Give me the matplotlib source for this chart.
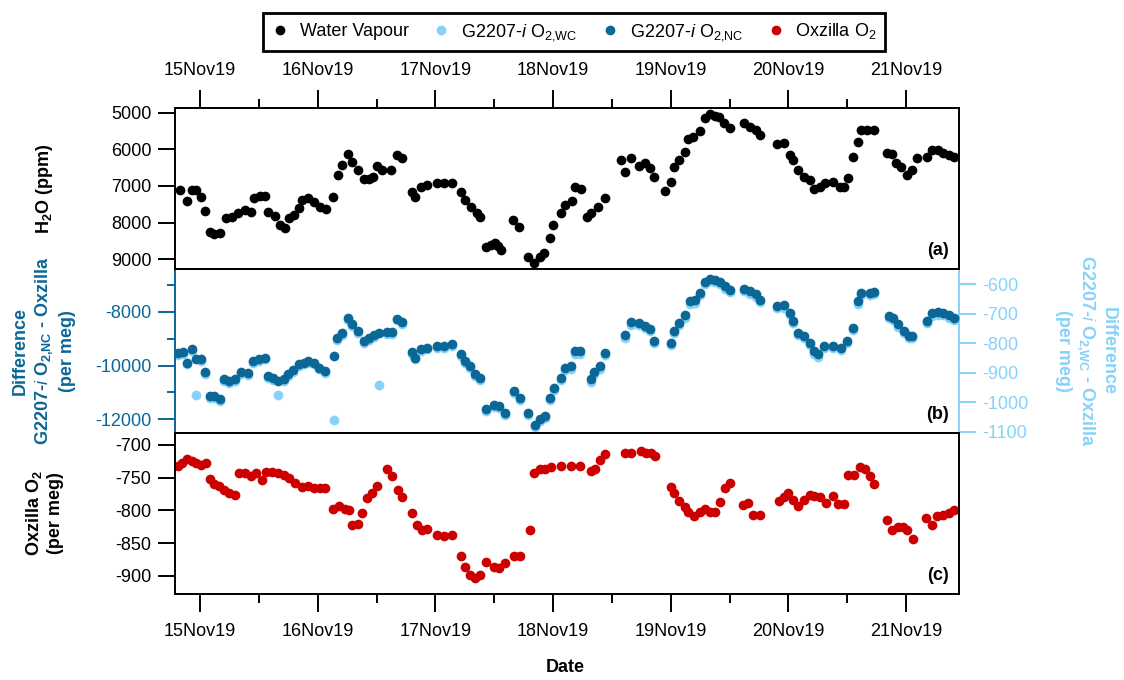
import numpy as np
import pandas as pd
import matplotlib
matplotlib.use("Agg")
import matplotlib.pyplot as plt
import matplotlib.dates as mdates
from matplotlib.lines import Line2D
from matplotlib.ticker import FixedLocator

plt.rcParams['font.family'] = ['Liberation Sans', 'DejaVu Sans']
plt.rcParams['mathtext.fontset'] = 'custom'
plt.rcParams['mathtext.rm'] = 'Liberation Sans'
plt.rcParams['mathtext.it'] = 'Liberation Sans:italic'
plt.rcParams['mathtext.bf'] = 'Liberation Sans:bold'
plt.rcParams['axes.unicode_minus'] = False
plt.rcParams['font.size'] = 13

# ---- data (time = days after 15 Nov 2019 00:00) ----
h2o_t = [-0.169, -0.11, -0.07, -0.03, 0.01, 0.04, 0.085, 0.12, 0.17, 0.22, 0.27, 0.32, 0.38, 0.43,
         0.455, 0.51, 0.55, 0.58, 0.64, 0.68, 0.72, 0.76, 0.80, 0.84, 0.87, 0.92, 0.97, 1.02, 1.07,
         1.13, 1.17, 1.21, 1.26, 1.29, 1.34, 1.39, 1.44, 1.47, 1.50, 1.55, 1.62, 1.67, 1.72, 1.80,
         1.83, 1.88, 1.93, 2.01, 2.07, 2.14, 2.22, 2.25, 2.30, 2.35, 2.38, 2.43, 2.47, 2.51, 2.53,
         2.56, 2.66, 2.71, 2.79, 2.84, 2.89, 2.92, 2.97, 3.00,
         3.07, 3.10, 3.16, 3.19, 3.24, 3.29, 3.32, 3.38, 3.44, 3.58, 3.61, 3.66, 3.73, 3.78, 3.82,
         3.86, 3.95, 4.00, 4.03, 4.07, 4.12, 4.15, 4.19, 4.25, 4.29, 4.33, 4.38, 4.41, 4.45, 4.50,
         4.62, 4.67, 4.72, 4.76, 4.90, 4.96, 5.01, 5.04, 5.08, 5.13, 5.18, 5.22, 5.27, 5.31, 5.38,
         5.44, 5.47, 5.51, 5.55, 5.59, 5.62, 5.67, 5.73, 5.84, 5.88, 5.91, 5.96, 6.01, 6.05, 6.09,
         6.18, 6.22, 6.27, 6.31, 6.36, 6.41]
h2o = [7109, 7409, 7109, 7109, 7290, 7670, 8245, 8310, 8270, 7880, 7836, 7745, 7655, 7718,
       7336, 7272, 7272, 7718, 7818, 8064, 8155, 7880, 7790, 7610, 7380, 7336, 7427, 7563, 7636,
       7310, 6700, 6427, 6136, 6336, 6564, 6818, 6818, 6764, 6455, 6564, 6564, 6155, 6245, 7155,
       7290, 7018, 6973, 6927, 6909, 6909, 7155, 7380, 7563, 7745, 7836, 8655, 8600, 8564, 8650,
       8745, 7927, 8109, 8927, 9109, 8927, 8836, 8427, 8064,
       7745, 7518, 7400, 7036, 7090, 7836, 7745, 7563, 7336, 6291, 6609, 6245, 6455, 6364, 6518,
       6764, 7127, 6882, 6491, 6291, 6064, 5727, 5655, 5491, 5155, 5036, 5091, 5109, 5273, 5427,
       5273, 5382, 5473, 5609, 5855, 5818, 6155, 6291, 6564, 6745, 6836, 7091, 7018, 6927, 6882,
       7018, 7018, 6791, 6218, 5791, 5473, 5473, 5473, 6091, 6127, 6364, 6491, 6700, 6564, 6245,
       6200, 6018, 6018, 6091, 6155, 6218]

diff_t = [-0.185, -0.143, -0.11, -0.07, -0.03, 0.01, 0.04, 0.085, 0.12, 0.17, 0.20, 0.25, 0.30,
          0.35, 0.41, 0.45, 0.50, 0.55, 0.58, 0.62, 0.66, 0.71, 0.75, 0.79, 0.84, 0.88, 0.92, 0.97,
          1.01, 1.06, 1.14, 1.16, 1.21, 1.26, 1.29, 1.34, 1.39, 1.44, 1.48, 1.52, 1.59, 1.63, 1.67,
          1.72, 1.80, 1.83, 1.88, 1.93, 2.01, 2.07, 2.14, 2.22, 2.25, 2.29, 2.34, 2.38, 2.43, 2.50,
          2.54, 2.59, 2.67, 2.72, 2.79, 2.85, 2.89, 2.93, 2.97, 3.01,
          3.07, 3.10, 3.15, 3.19, 3.23, 3.32, 3.35, 3.40, 3.44, 3.61, 3.66, 3.73, 3.78, 3.82, 3.86,
          4.00, 4.03, 4.07, 4.12, 4.16, 4.21, 4.25, 4.29, 4.33, 4.38, 4.42, 4.46, 4.50, 4.62, 4.67,
          4.72, 4.76, 4.90, 4.96, 5.01, 5.04, 5.08, 5.13, 5.18, 5.22, 5.25, 5.30, 5.38, 5.45, 5.50,
          5.55, 5.59, 5.62, 5.69, 5.73, 5.85, 5.89, 5.93, 5.98, 6.02, 6.05, 6.18, 6.22, 6.27, 6.31,
          6.36, 6.41]
diff_nc = [-9548, -9498, -9895, -9399, -9771, -9746, -10242, -11133, -11133, -11257, -10514, -10576,
           -10489, -10242, -10291, -9833, -9771, -9709, -10390, -10452, -10576, -10489, -10328,
           -10167, -9957, -9895, -9833, -9895, -10080, -10204, -9647, -8966, -8780, -8223, -8471,
           -8718, -9090, -8966, -8879, -8780, -8755, -8755, -8260, -8384, -9498, -9709, -9375,
           -9337, -9276, -9276, -9214, -9585, -9833, -10019, -10328, -10452, -11604, -11480,
           -11505, -11752, -10947, -11195, -11752, -12223, -12000, -11876, -11195, -10823,
           -10452, -10080, -10019, -9461, -9461, -10514, -10242, -10019, -9523, -8879, -8384,
           -8409, -8533, -8631, -9090, -9152, -8718, -8409, -8136, -7604, -7579, -7294, -6898,
           -6774, -6823, -6898, -7046, -7195, -7146, -7232, -7356, -7567, -7789, -7765, -8037,
           -8347, -8780, -8904, -9152, -9461, -9585, -9276, -9276, -9337, -9090, -8594, -7604,
           -7294, -7294, -7269, -8161, -8223, -8471, -8718, -8904, -8904, -8347, -8062, -8012,
           -8037, -8136, -8223]
diff_wc = [-841, -836, -872, -827, -974, -859, -904, -985, -985, -997, -929, -934, -927, -904,
           -908, -867, -861, -855, -918, -923, -974, -927, -912, -897, -878, -872, -867, -872,
           -889, -901, -1059, -788, -771, -720, -742, -765, -799, -788, -780, -940, -768, -768,
           -723, -734, -836, -855, -825, -821, -816, -816, -810, -844, -867, -884, -912, -923,
           -1028, -1017, -1019, -1042, -968, -991, -1042, -1085, -1064, -1053, -991, -957,
           -925, -892, -886, -835, -835, -931, -906, -886, -841, -782, -737, -739, -750, -759,
           -801, -807, -767, -739, -714, -666, -663, -637, -601, -590, -594, -601, -615, -628,
           -624, -632, -643, -662, -682, -680, -705, -733, -773, -784, -807, -835, -846, -818,
           -818, -824, -801, -756, -666, -637, -637, -635, -716, -722, -745, -767, -784, -784,
           -733, -707, -703, -705, -714, -722]

o2_t = [-0.19, -0.15, -0.11, -0.07, -0.03, 0.01, 0.05, 0.085, 0.12, 0.16, 0.20, 0.25, 0.30, 0.33,
        0.38, 0.43, 0.48, 0.53, 0.56, 0.61, 0.66, 0.71, 0.76, 0.81, 0.87, 0.92, 0.97, 1.02, 1.06,
        1.13, 1.18, 1.23, 1.27, 1.29, 1.34, 1.38, 1.42, 1.46, 1.50, 1.59, 1.63, 1.68, 1.72, 1.80,
        1.84, 1.89, 1.93, 2.01, 2.07, 2.14, 2.22, 2.25, 2.29, 2.34, 2.38, 2.43, 2.50, 2.54, 2.59,
        2.67, 2.72, 2.80, 2.84, 2.89, 2.93, 2.98,
        3.07, 3.15, 3.23, 3.32, 3.36, 3.40, 3.44, 3.61, 3.66, 3.75, 3.79, 3.83, 3.87, 4.00, 4.03,
        4.07, 4.12, 4.15, 4.20, 4.25, 4.29, 4.33, 4.38, 4.42, 4.46, 4.50, 4.61, 4.66, 4.70, 4.76,
        4.92, 4.96, 5.00, 5.04, 5.08, 5.13, 5.18, 5.22, 5.27, 5.32, 5.38, 5.42, 5.47, 5.51, 5.56,
        5.61, 5.65, 5.69, 5.73, 5.84, 5.88, 5.93, 5.97, 6.01, 6.06, 6.17, 6.22, 6.26, 6.31, 6.36,
        6.41]
o2 = [-732, -728, -722, -725, -727, -731, -727, -752, -760, -763, -768, -773, -776, -743,
      -743, -747, -743, -753, -741, -741, -743, -746, -751, -758, -764, -763, -765, -765, -765,
      -797, -793, -797, -799, -822, -820, -804, -781, -774, -763, -737, -747, -768, -779, -804,
      -822, -830, -829, -837, -839, -837, -870, -886, -898, -903, -898, -878, -887, -888, -880,
      -870, -870, -830, -743, -736, -736, -734,
      -732, -732, -732, -739, -736, -723, -714, -712, -712, -709, -712, -712, -717, -764, -774,
      -785, -794, -802, -808, -802, -797, -802, -803, -787, -765, -758, -792, -789, -807, -807,
      -785, -779, -774, -784, -793, -784, -776, -778, -779, -789, -778, -790, -790, -746, -746,
      -734, -736, -748, -759, -815, -830, -825, -825, -830, -843, -812, -822, -809, -807, -804,
      -799]

base = pd.Timestamp("2019-11-15")


def to_time(days):
    return base + pd.to_timedelta(np.array(days), unit="D")


black = "#000000"
light = "#86d2fa"
dark = "#0b6796"
red = "#cc0000"
ms = 7

fig = plt.figure(figsize=(11.24, 6.8), dpi=100)
left, width = 175 / 1124, 784 / 1124
ax_a = fig.add_axes([left, 1 - 269 / 680, width, 161.3 / 680])
ax_b = fig.add_axes([left, 1 - 433 / 680, width, 164 / 680])
ax_c = fig.add_axes([left, 1 - 594 / 680, width, 161 / 680])
ax_b2 = ax_b.twinx()

ax_a.plot(to_time(h2o_t), h2o, 'o', color=black, ms=ms, mew=0)
ax_b2.plot(to_time(diff_t), diff_wc, 'o', color=light, ms=ms, mew=0)
ax_b.plot(to_time(diff_t), diff_nc, 'o', color=dark, ms=ms, mew=0)
ax_c.plot(to_time(o2_t), o2, 'o', color=red, ms=ms, mew=0)

# dark points drawn above the light ones
ax_b.set_zorder(ax_b2.get_zorder() + 1)
ax_b.patch.set_visible(False)

xmin, xmax = to_time([-0.2124, 6.449])
for ax in (ax_a, ax_b, ax_c, ax_b2):
    ax.set_xlim(xmin, xmax)
    ax.xaxis.set_major_locator(mdates.DayLocator())
    ax.xaxis.set_minor_locator(mdates.HourLocator(byhour=12))
    ax.xaxis.set_major_formatter(mdates.DateFormatter('%d%b%y'))
    for s in ax.spines.values():
        s.set_linewidth(1.4)
    ax.tick_params(axis='x', which='major', direction='out', length=12.7, width=1.4, pad=8)
    ax.tick_params(axis='x', which='minor', direction='out', length=6.3, width=1.4)
    ax.tick_params(axis='y', which='major', direction='out', length=12, width=1.4, pad=5)
    ax.tick_params(axis='y', which='minor', direction='out', length=5.5, width=1.4)

ax_a.tick_params(axis='x', which='both', top=True, bottom=False, labeltop=True, labelbottom=False)
ax_b.tick_params(axis='x', which='both', top=False, bottom=False, labelbottom=False)
ax_b2.tick_params(axis='x', which='both', top=False, bottom=False, labelbottom=False)
ax_c.tick_params(axis='x', which='both', top=False, bottom=True)

# panel a
ax_a.set_ylim(9265, 4864)
ax_a.yaxis.set_major_locator(FixedLocator([5000, 6000, 7000, 8000, 9000]))

# panel b
ax_b.set_ylim(-12509, -6413)
ax_b.yaxis.set_major_locator(FixedLocator([-8000, -10000, -12000]))
ax_b.yaxis.set_minor_locator(FixedLocator([-7000, -9000, -11000]))
ax_b.tick_params(axis='y', which='both', colors=dark)
ax_b.spines['left'].set_color(dark)
ax_b.spines['right'].set_visible(False)
ax_b2.set_ylim(-1104, -549)
ax_b2.yaxis.set_major_locator(FixedLocator([-600, -700, -800, -900, -1000, -1100]))
ax_b2.tick_params(axis='y', which='both', colors=light)
ax_b2.spines['right'].set_color(light)
for side in ('left', 'top', 'bottom'):
    ax_b2.spines[side].set_visible(False)

# panel c
ax_c.set_ylim(-927.5, -681.7)
ax_c.yaxis.set_major_locator(FixedLocator([-700, -750, -800, -850, -900]))

# axis titles
ax_a.text(-0.167, 0.5, r"H$_\mathbf{2}$O (ppm)", transform=ax_a.transAxes, rotation=90,
          ha='center', va='center', fontweight='bold')
ax_b.text(-0.167, 0.5, "Difference\nG2207-$\\mathit{i}$ O$_\\mathbf{2{,}NC}$ - Oxzilla\n(per meg)",
          transform=ax_b.transAxes, rotation=90, ha='center', va='center',
          multialignment='center', color=dark, linespacing=1.3, fontweight='bold')
ax_b2.text(1.162, 0.5, "Difference\nG2207-$\\mathit{i}$ O$_\\mathbf{2{,}WC}$ - Oxzilla\n(per meg)",
           transform=ax_b2.transAxes, rotation=270, ha='center', va='center',
           multialignment='center', color=light, linespacing=1.2, fontweight='bold')
ax_c.text(-0.167, 0.5, "Oxzilla O$_\\mathbf{2}$\n(per meg)", transform=ax_c.transAxes,
          rotation=90, ha='center', va='center', multialignment='center', fontweight='bold')

for ax, lab in ((ax_a, "(a)"), (ax_b, "(b)"), (ax_c, "(c)")):
    ax.text(0.987, 0.06, lab, transform=ax.transAxes, ha='right', va='bottom', fontweight='bold')

fig.text(565 / 1124, 1 - 668 / 680, "Date", ha='center', va='center', fontweight='bold')

handles = [Line2D([], [], ls='none', marker='o', ms=ms, mew=0, color=c) for c in (black, light, dark, red)]
labels = ["Water Vapour", "G2207-$i$ O$_\\mathrm{2{,}WC}$", "G2207-$i$ O$_\\mathrm{2{,}NC}$", "Oxzilla O$_2$"]
leg = fig.legend(handles, labels, loc='center', bbox_to_anchor=(574 / 1124, 1 - 32 / 680), ncol=4,
                 frameon=True, fancybox=False, edgecolor='black', framealpha=1,
                 handlelength=1.0, handletextpad=0.6, columnspacing=1.3, borderpad=0.45)
leg.get_frame().set_linewidth(2)

fig.savefig("out.png", dpi=100)
